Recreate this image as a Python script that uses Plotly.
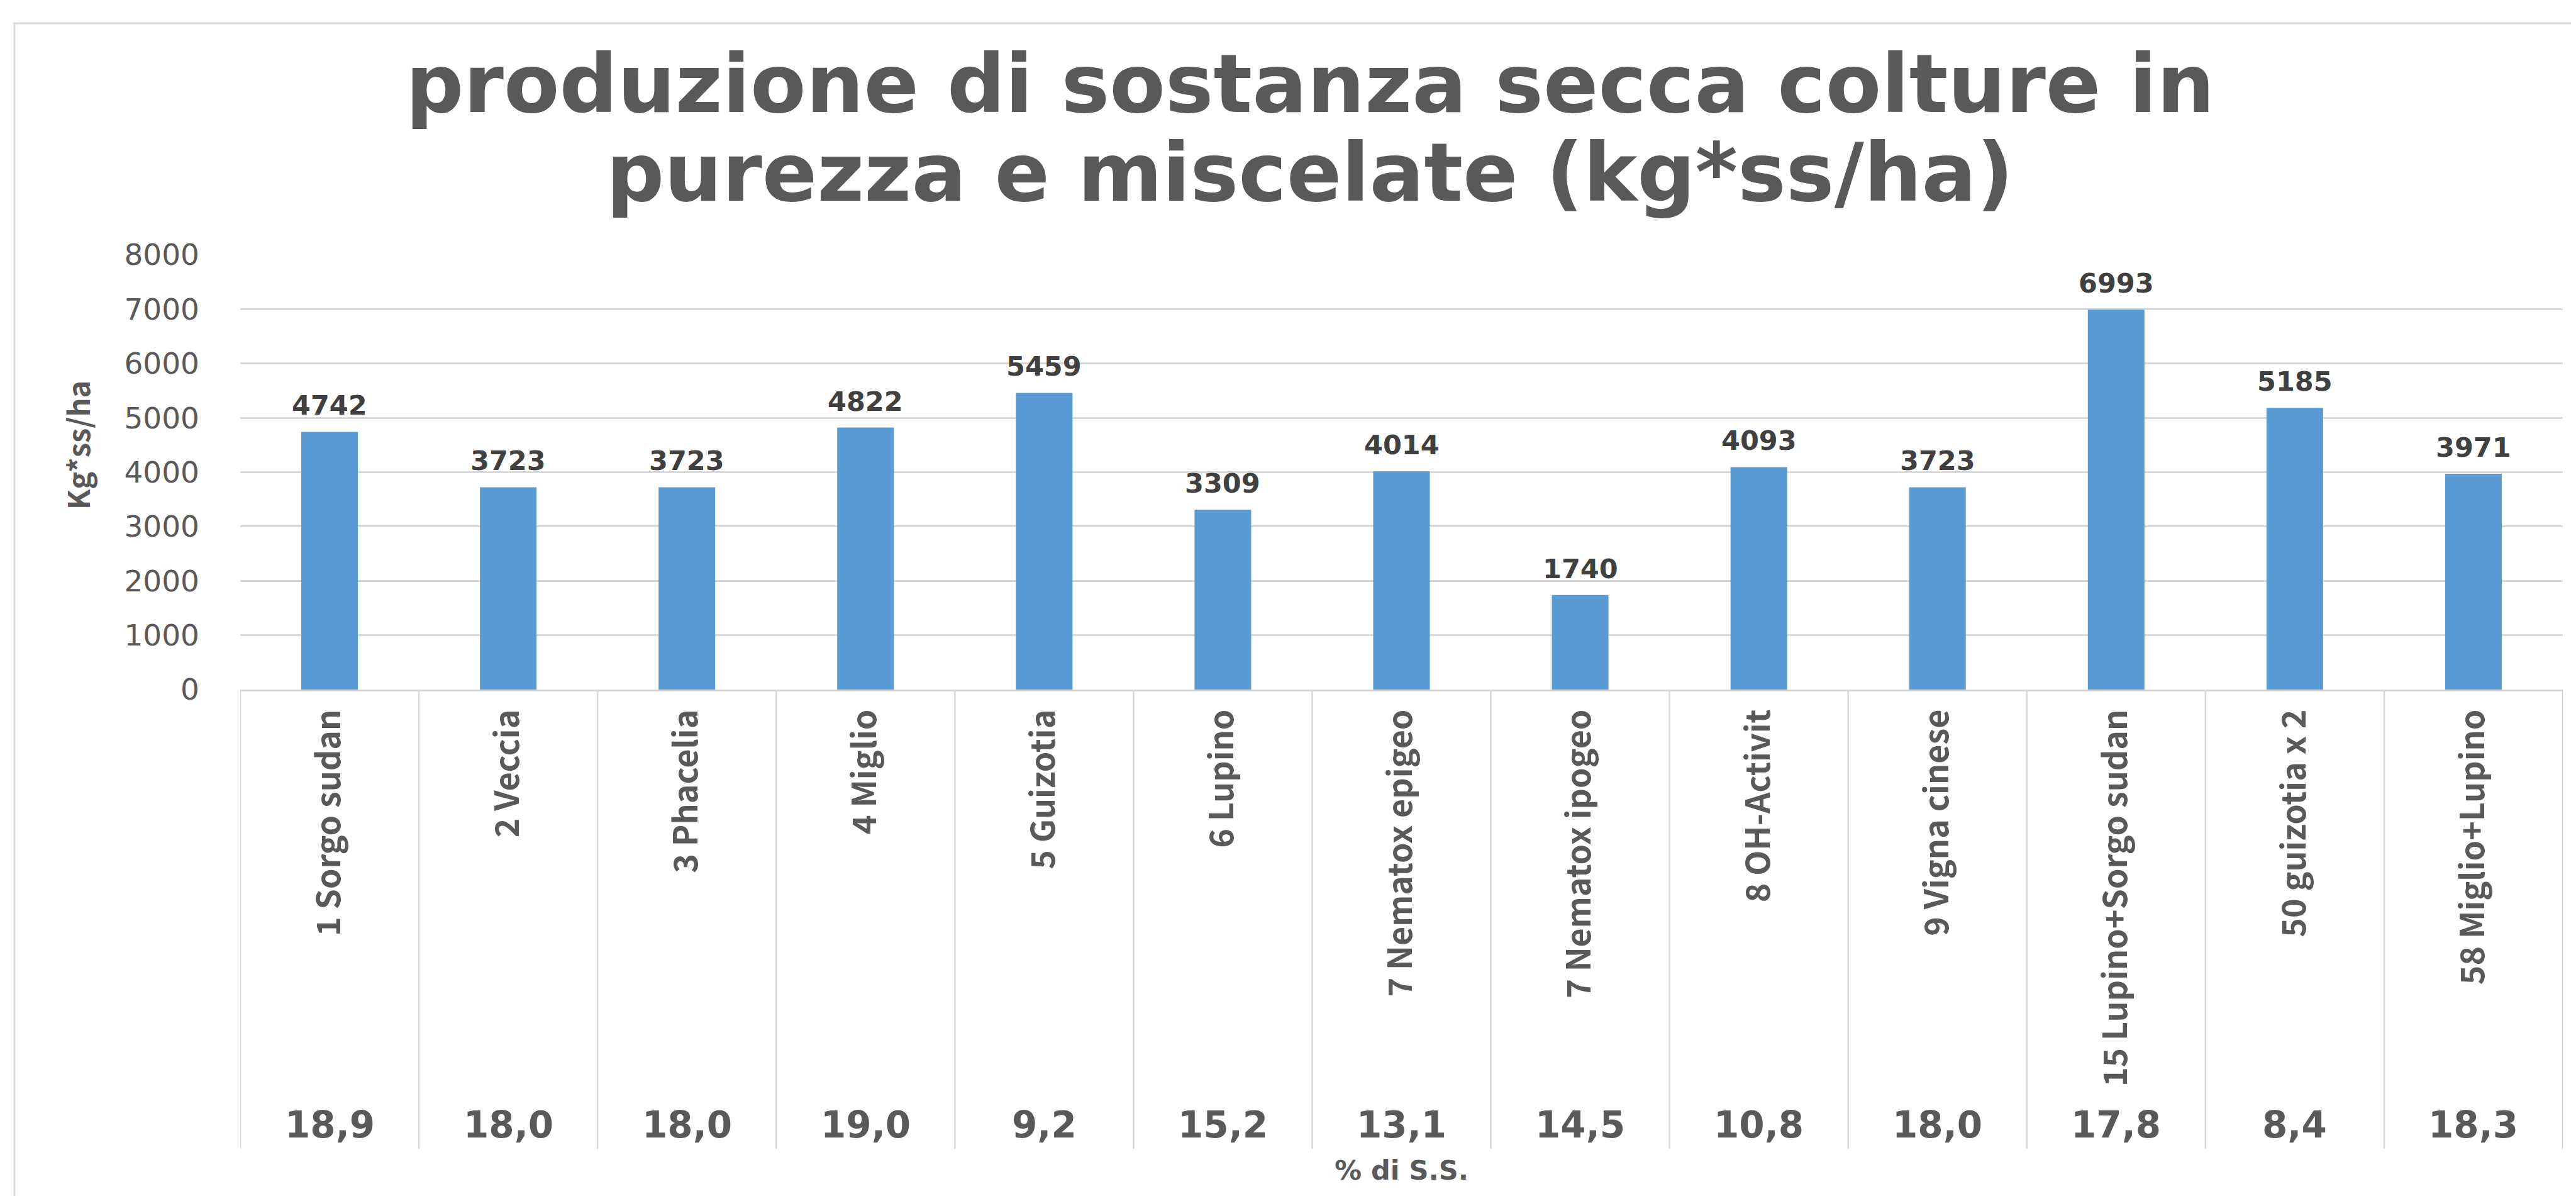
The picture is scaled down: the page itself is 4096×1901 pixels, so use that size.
import plotly.graph_objects as go

# ---- data ----
categories = ["1 Sorgo sudan", "2 Veccia", "3 Phacelia", "4 Miglio", "5 Guizotia",
              "6 Lupino", "7 Nematox epigeo", "7 Nematox ipogeo", "8 OH-Activit",
              "9 Vigna cinese", "15 Lupino+Sorgo sudan", "50 guizotia x 2",
              "58 Miglio+Lupino"]
production = [4742, 3723, 3723, 4822, 5459, 3309, 4014, 1740, 4093, 3723, 6993, 5185, 3971]
dry_matter_pct = ["18,9", "18,0", "18,0", "19,0", "9,2", "15,2", "13,1", "14,5",
                  "10,8", "18,0", "17,8", "8,4", "18,3"]
y_ticks = [0, 1000, 2000, 3000, 4000, 5000, 6000, 7000, 8000]
title_lines = ["produzione di sostanza secca colture in", "purezza e miscelate (kg*ss/ha)"]
y_title = "Kg*ss/ha"
x_title = "% di S.S."

# ---- layout geometry (pixels) ----
W, H = 4096, 1901
L, R, T, B = 374, 29, 397, 813
PW, PH = W - L - R, H - T - B
AX_Y = H - B  # pixel y of axis


def px_x(px):
    return (px - L) / PW


def px_y(py):
    return (AX_Y - py) / PH


GRID = "#D9D9D9"
TXT = "#595959"
BAR = "#5B9BD5"
BOLD = "DejaVu Sans"
NARROW = "Noto Sans CJK SC"
TITLE_SIZE = 129

fig = go.Figure()
fig.add_trace(go.Bar(x=categories, y=production, width=0.317,
                     marker=dict(color=BAR, line=dict(width=0)),
                     hoverinfo="x+y"))

annotations = []
# data labels
for c, v in zip(categories, production):
    annotations.append(dict(x=c, y=v, xref="x", yref="y", text=str(v), showarrow=False,
                            yanchor="bottom", yshift=15,
                            font=dict(family=BOLD, size=43, color="#404040", weight="bold")))
# percentage row
for c, p in zip(categories, dry_matter_pct):
    annotations.append(dict(x=c, y=px_y(1780), xref="x", yref="paper", text=p, showarrow=False,
                            yanchor="middle",
                            font=dict(family=BOLD, size=58, color=TXT, weight="bold")))
# x title
annotations.append(dict(x=0.5, y=px_y(1852), xref="paper", yref="paper", text=x_title,
                        showarrow=False, yanchor="middle",
                        font=dict(family=BOLD, size=43, color=TXT, weight="bold")))
# y title
annotations.append(dict(x=px_x(114), y=px_y(700), xref="paper", yref="paper", text=y_title,
                        showarrow=False, textangle=-90, xanchor="center", yanchor="middle",
                        font=dict(family=NARROW, size=47, color=TXT, weight="bold")))
# chart title (two lines)
for line, base in zip(title_lines, [170, 311]):
    annotations.append(dict(x=px_x(2075), y=px_y(base - 0.346 * TITLE_SIZE), xref="paper",
                            yref="paper", text=line, showarrow=False, xanchor="center",
                            yanchor="middle",
                            font=dict(family=BOLD, size=TITLE_SIZE, color=TXT, weight="bold")))

shapes = []
# vertical dividers in the category label area
for i in range(len(categories) + 1):
    shapes.append(dict(type="line", xref="x", yref="paper", x0=i - 0.5, x1=i - 0.5,
                       y0=0, y1=px_y(1818), line=dict(color=GRID, width=2.6)))
# chart border (left + top visible, right/bottom beyond the picture)
shapes.append(dict(type="rect", xref="paper", yref="paper",
                   x0=px_x(15), x1=px_x(W + 40), y0=px_y(H + 40), y1=px_y(29),
                   line=dict(color=GRID, width=3), fillcolor="rgba(0,0,0,0)"))

fig.update_layout(
    width=W, height=H,
    margin=dict(l=L, r=R, t=T, b=B, autoexpand=False),
    paper_bgcolor="white", plot_bgcolor="white",
    showlegend=False,
    bargap=0.683,
    annotations=annotations,
    shapes=shapes,
    xaxis=dict(type="category", range=[-0.5, len(categories) - 0.5],
               tickangle=-90, showgrid=False, zeroline=False,
               showline=True, linecolor=GRID, linewidth=2.6,
               ticks="", ticklabelstandoff=8,
               tickfont=dict(family=NARROW, size=52, color=TXT, weight="bold")),
    yaxis=dict(range=[0, 8000], tickvals=y_ticks, ticktext=[str(t) for t in y_ticks],
               showgrid=True, gridcolor=GRID, gridwidth=2.6,
               zeroline=False, showline=False, ticks="", ticklabelstandoff=64,
               tickfont=dict(family="DejaVu Sans", size=47, color=TXT)),
)

fig.write_html("out.html")
